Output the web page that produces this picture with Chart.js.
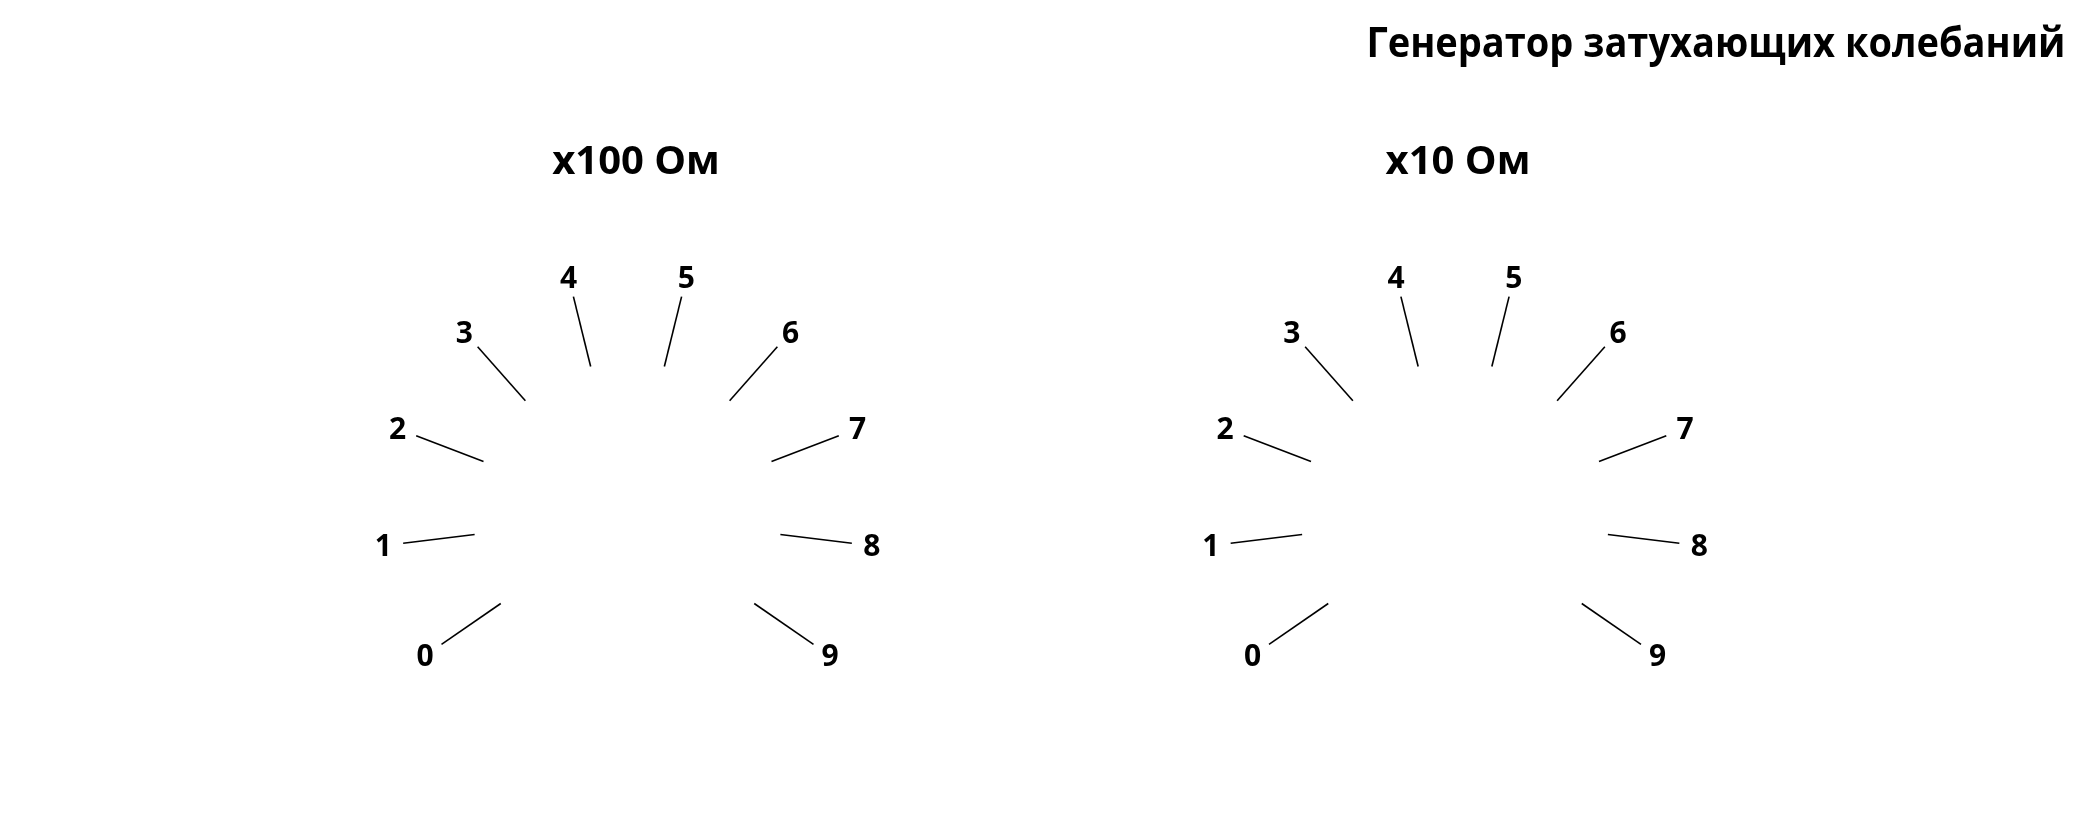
<!DOCTYPE html>
<html lang="ru">
<head>
<meta charset="utf-8">
<title>Генератор затухающих колебаний</title>
<script src="https://cdn.jsdelivr.net/npm/chart.js@4/dist/chart.umd.min.js"></script>
<style>
  html, body { margin: 0; padding: 0; background: #fff; }
  body { width: 2085px; height: 813px; position: relative; overflow: hidden; font-family: 'Open Sans', sans-serif; }
  canvas { position: absolute; top: 0; }
  #mainTitle {
    position: absolute; top: 20px; right: 20px;
    font-weight: 700; font-size: 42px; line-height: 1;
    color: #000; white-space: nowrap;
    transform: scaleX(0.905); transform-origin: right center;
  }
</style>
</head>
<body>
<canvas id="dial100" width="760" height="813" style="left:256px"></canvas>
<canvas id="dial10" width="760" height="813" style="left:1078px"></canvas>
<div id="mainTitle">Генератор затухающих колебаний</div>
<script>
// switch positions, the same on both dials
const dialLabels = ['0', '1', '2', '3', '4', '5', '6', '7', '8', '9'];
const dialTitles = ['x100 Ом', 'x10 Ом'];
const dialIds = ['dial100', 'dial10'];

// 13 equal steps round the circle, the 3 bottom ones are left empty
const STEPS = 13;
const STEP = 2 * Math.PI / STEPS;
const START = 1.5 * Math.PI - 2 * STEP; // position "0", lower left

// geometry in px, the scales use the outer radius as 1 unit
const UNIT = 226;
const INNER_R = 154 / UNIT;
const OUTER_R = 1;
const LABEL_R = 246 / UNIT;
const CANVAS_W = 760, CANVAS_H = 813;
const CANVAS_LEFT = [256, 1078];
const DIAL_CX = [627.5, 1455];
const DIAL_CY = 516;
const TITLE_SIZE = 40, TITLE_PAD = 139;
const AREA_TOP = TITLE_PAD + TITLE_SIZE * 1.2;

const angleOf = i => START - i * STEP;

const dialLabelsPlugin = {
  id: 'dialLabels',
  afterDatasetsDraw(chart) {
    const { ctx, scales: { x, y } } = chart;
    const size = 30;
    ctx.save();
    ctx.font = 'bold ' + size + 'px "Open Sans"';
    ctx.fillStyle = '#000';
    ctx.textAlign = 'center';
    ctx.textBaseline = 'alphabetic';
    dialLabels.forEach((label, i) => {
      const a = angleOf(i);
      const px = x.getPixelForValue(LABEL_R * Math.cos(a));
      const py = y.getPixelForValue(LABEL_R * Math.sin(a));
      ctx.fillText(label, px, py + size * 0.357);
    });
    ctx.restore();
  }
};

function tickDataset(i) {
  const a = angleOf(i);
  const c = Math.cos(a), s = Math.sin(a);
  return {
    label: dialLabels[i],
    data: [{ x: INNER_R * c, y: INNER_R * s }, { x: OUTER_R * c, y: OUTER_R * s }],
    showLine: true,
    borderColor: '#000',
    borderWidth: 1.6,
    pointRadius: 0,
    fill: false
  };
}

dialIds.forEach((id, k) => {
  const left = DIAL_CX[k] - CANVAS_LEFT[k];
  new Chart(document.getElementById(id), {
    type: 'scatter',
    data: { datasets: dialLabels.map((_, i) => tickDataset(i)) },
    options: {
      responsive: false,
      animation: false,
      events: [],
      layout: { padding: 0 },
      plugins: {
        legend: { display: false },
        tooltip: { enabled: false },
        title: {
          display: true,
          text: dialTitles[k],
          color: '#000',
          font: { family: 'Open Sans', size: TITLE_SIZE, weight: 'bold', lineHeight: 1.2 },
          padding: { top: TITLE_PAD, bottom: 0 }
        }
      },
      scales: {
        x: { type: 'linear', display: false, min: -left / UNIT, max: (CANVAS_W - left) / UNIT },
        y: { type: 'linear', display: false, min: -(CANVAS_H - DIAL_CY) / UNIT, max: (DIAL_CY - AREA_TOP) / UNIT }
      }
    },
    plugins: [dialLabelsPlugin]
  });
});
</script>
</body>
</html>
